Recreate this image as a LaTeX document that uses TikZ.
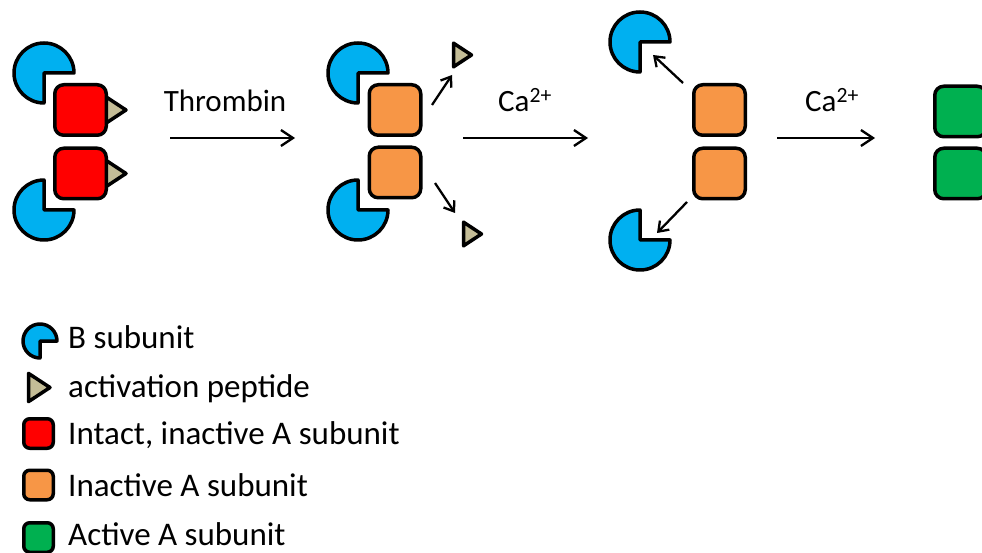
\documentclass[tikz,border=0pt]{standalone}
\usepackage{fontspec}
\setmainfont{Carlito}
\usetikzlibrary{arrows.meta}

\definecolor{bsub}{RGB}{0,176,240}
\definecolor{intactA}{RGB}{255,0,0}
\definecolor{inactA}{RGB}{247,150,70}
\definecolor{activeA}{RGB}{0,176,80}
\definecolor{peptide}{RGB}{196,189,151}

\tikzset{
  outline/.style={draw=black, line width=3.5pt, line join=round},
  subA/.style={outline, shape=rectangle, rounded corners=9pt,
    minimum width=51.5pt, minimum height=50.5pt, inner sep=0pt},
  legA/.style={outline, shape=rectangle, rounded corners=6pt,
    minimum width=29.5pt, minimum height=29.5pt, inner sep=0pt},
  reaction/.style={line width=2.3pt, -{Straight Barb[length=12pt,width=16pt]}},
  release/.style={line width=2.3pt, -{Straight Barb[length=9pt,width=13pt]}},
  rlabel/.style={font=\fontsize{31}{36}\selectfont, anchor=base, inner sep=0pt},
  legtext/.style={font=\fontsize{33}{38}\selectfont, anchor=base west, inner sep=0pt},
  % B subunit: disc with the lower-right quarter cut away
  pics/bopenlow/.style={code={
    \draw[outline, fill=bsub] (0,0) -- (0:#1pt) arc (0:270:#1pt) -- cycle;}},
  % B subunit: disc with the upper-right quarter cut away
  pics/bopenhigh/.style={code={
    \draw[outline, fill=bsub] (0,0) -- (90:#1pt) arc (90:360:#1pt) -- cycle;}},
  % activation peptide: triangle pointing right, origin at the middle of its base
  pics/peptide/.style={code={
    \draw[outline, fill=peptide] (0,{#1*0.657}) -- (#1,0) -- (0,{-#1*0.657}) -- cycle;}},
}

\begin{document}
\begin{tikzpicture}[x=1pt, y=1pt]
\useasboundingbox (0,0) rectangle (982,-553);
\fill[white] (0,0) rectangle (982,-553);

% ---- intact zymogen: A2B2 with activation peptides ----
\pic at (44,-73) {bopenlow=30};
\pic at (44,-210) {bopenhigh=30};
\pic at (100,-110) {peptide=26};
\pic at (100,-173.5) {peptide=26};
\node[subA, fill=intactA] (A1t) at (80.5,-110) {};
\node[subA, fill=intactA] (A1b) at (80.5,-173.5) {};

% ---- thrombin cleavage ----
\coordinate (r1s) at (170,-138);
\coordinate (r1e) at (295,-138);
\draw[reaction] (r1s) -- (r1e);
\node[rlabel] (thr) at (225,-112) {Thrombin};

% ---- cleaved complex, peptides released ----
\pic at (358,-73) {bopenlow=30};
\pic at (358,-210) {bopenhigh=30};
\node[subA, fill=inactA] (A2t) at (395,-110) {};
\node[subA, fill=inactA] (A2b) at (395,-172.5) {};
\pic at (453.5,-55) {peptide=18};
\pic at (463.5,-234) {peptide=18};
\coordinate (p1s) at (432,-105);
\coordinate (p1e) at (452,-75);
\coordinate (p2s) at (435,-183);
\coordinate (p2e) at (455,-213);
\draw[release] (p1s) -- (p1e);
\draw[release] (p2s) -- (p2e);

% ---- first calcium step ----
\coordinate (r2s) at (463,-138);
\coordinate (r2e) at (588,-138);
\draw[reaction] (r2s) -- (r2e);
\node[rlabel] (ca1) at (525,-112) {Ca\textsuperscript{2+}};

% ---- B subunits dissociate ----
\pic at (640,-42) {bopenlow=30};
\pic at (640,-240) {bopenhigh=30};
\node[subA, fill=inactA] (A3t) at (719.5,-110) {};
\node[subA, fill=inactA] (A3b) at (719.5,-173.5) {};
\coordinate (b1s) at (683,-83);
\coordinate (b1e) at (653,-55);
\coordinate (b2s) at (687,-202);
\coordinate (b2e) at (657,-233);
\draw[release] (b1s) -- (b1e);
\draw[release] (b2s) -- (b2e);

% ---- second calcium step ----
\coordinate (r3s) at (777,-138);
\coordinate (r3e) at (875,-138);
\draw[reaction] (r3s) -- (r3e);
\node[rlabel] (ca2) at (832,-112) {Ca\textsuperscript{2+}};

% ---- active A subunits ----
\node[subA, fill=activeA] (A4t) at (960.5,-111.5) {};
\node[subA, fill=activeA] (A4b) at (960.5,-173.5) {};

% ---- legend ----
\pic at (40,-341) {bopenlow=17};
\node[legtext] (lg1) at (68,-348) {B subunit};
\pic at (28.5,-387.5) {peptide=21.5};
\node[legtext] (lg2) at (68,-397) {activation peptide};
\node[legA, fill=intactA] (kr) at (38.5,-433.5) {};
\node[legtext] (lg3) at (68,-444) {Intact, inactive A subunit};
\node[legA, fill=inactA] (ko) at (38.5,-485) {};
\node[legtext] (lg4) at (68,-496) {Inactive A subunit};
\node[legA, fill=activeA] (kg) at (38.5,-537.5) {};
\node[legtext] (lg5) at (68,-545) {Active A subunit};
\end{tikzpicture}
\end{document}
